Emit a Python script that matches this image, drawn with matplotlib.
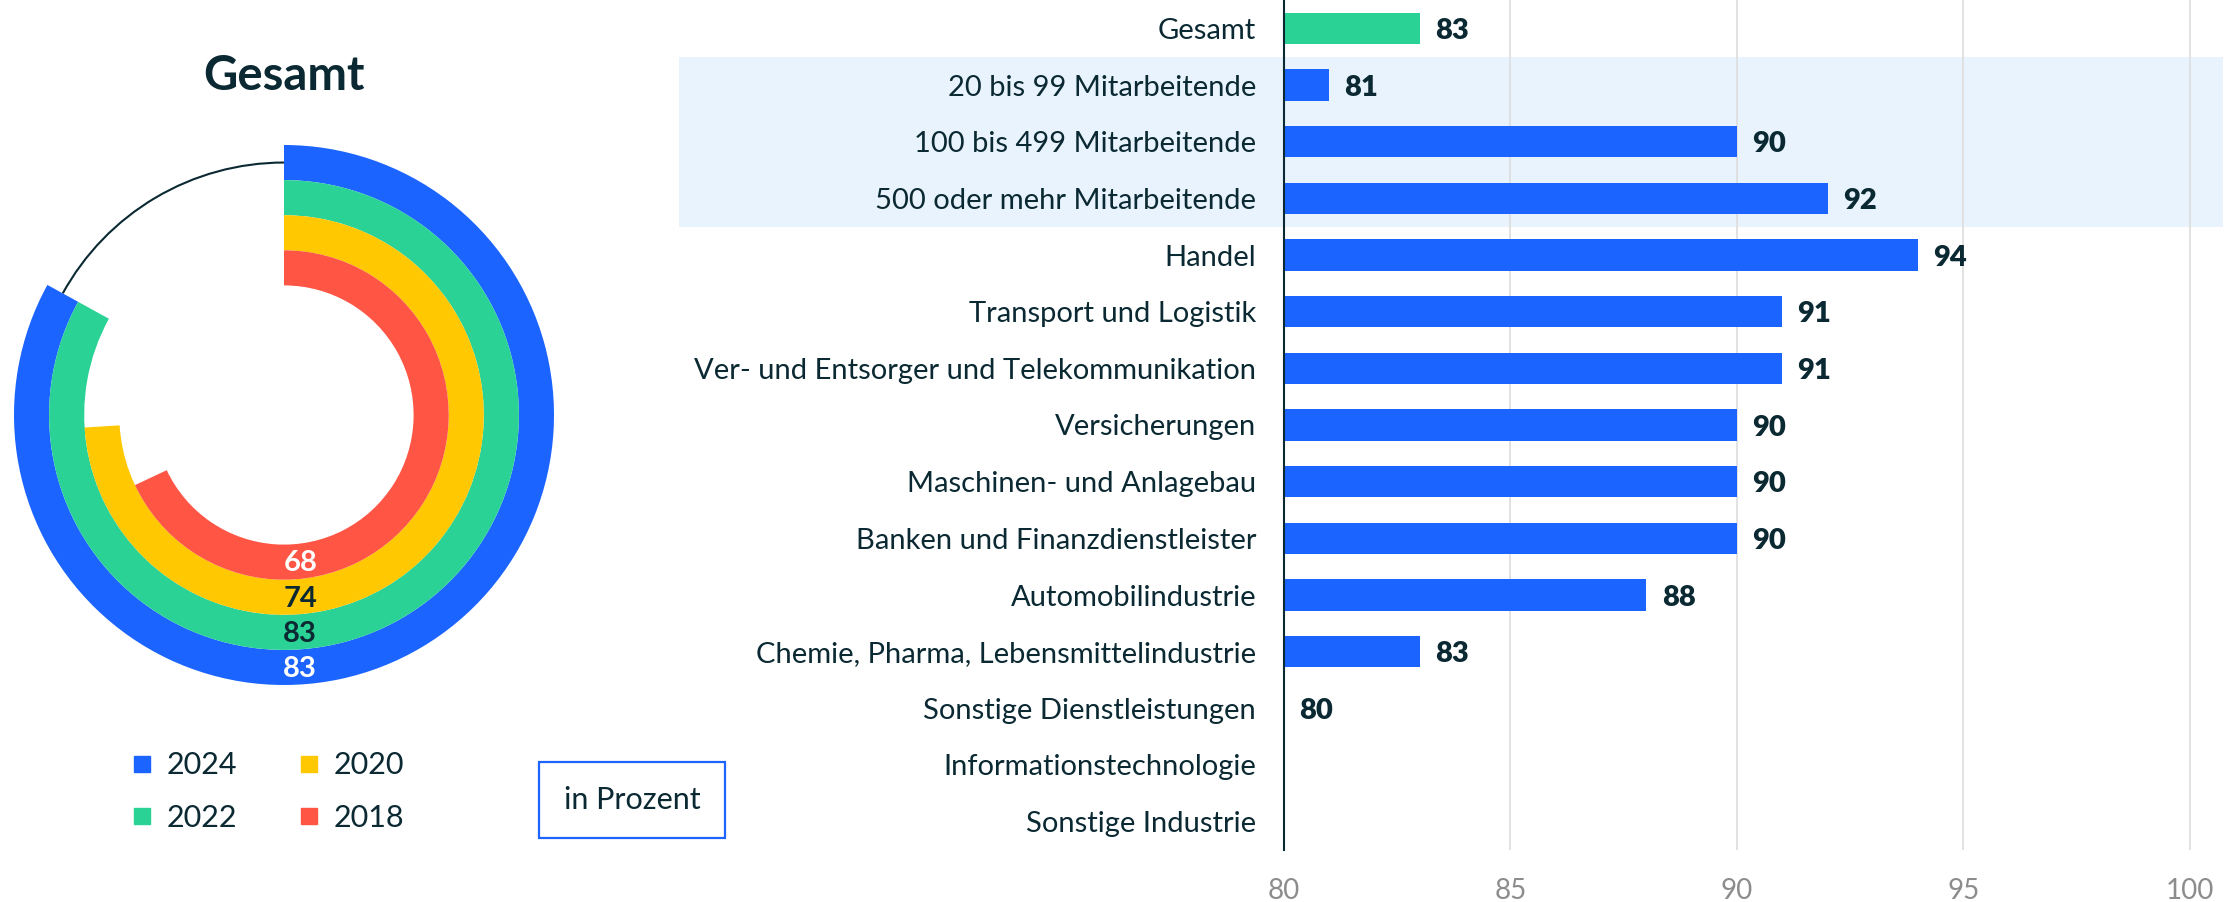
import matplotlib.pyplot as plt
from matplotlib.patches import Arc, Rectangle
from matplotlib.lines import Line2D
import matplotlib.transforms as mtransforms

plt.rcParams['font.family'] = ['Lato', 'DejaVu Sans']

# data
years = ['2024', '2022', '2020', '2018']
gesamt_values = [83, 83, 74, 68]
ring_colors = ['#1b64ff', '#2ad296', '#ffc800', '#ff5545']
label_colors = ['white', '#0b2932', '#0b2932', 'white']

categories = ['Gesamt', '20 bis 99 Mitarbeitende', '100 bis 499 Mitarbeitende',
              '500 oder mehr Mitarbeitende', 'Handel', 'Transport und Logistik',
              'Ver- und Entsorger und Telekommunikation', 'Versicherungen',
              'Maschinen- und Anlagebau', 'Banken und Finanzdienstleister',
              'Automobilindustrie', 'Chemie, Pharma, Lebensmittelindustrie',
              'Sonstige Dienstleistungen', 'Informationstechnologie', 'Sonstige Industrie']
values = [83, 81, 90, 92, 94, 91, 91, 90, 90, 90, 88, 83, 80, None, None]
highlight = [1, 2, 3]
x_ticks = [80, 85, 90, 95, 100]

dark = '#0b2932'
blue = '#1b64ff'
green = '#2ad296'

fig = plt.figure(figsize=(22.27, 9.02), dpi=100)

# ---- donut ----
ax_d = fig.add_axes([0.5 / 2227, 203.5 / 902, 567 / 2227, 567 / 902])
ax_d.axis('off')

width = 0.13
for i, (v, c) in enumerate(zip(gesamt_values, ring_colors)):
    r = 1.0 - i * width
    ax_d.pie([v, 100 - v], radius=r, startangle=90, counterclock=False,
             colors=[c, 'none'], wedgeprops=dict(width=width, linewidth=0))
    ax_d.text(0.06, -(r - width / 2) - 0.005, str(v), ha='center', va='center',
              fontsize=21, fontweight='bold', color=label_colors[i])

# thin arc for the rest of the outer ring
rest = (100 - gesamt_values[0]) * 3.6
ax_d.add_patch(Arc((0, 0), 2 * (1 - width / 2), 2 * (1 - width / 2),
                   theta1=90, theta2=90 + rest, color=dark, lw=1.5, zorder=0))
ax_d.set_xlim(-1.05, 1.05)
ax_d.set_ylim(-1.05, 1.05)
ax_d.set_aspect('equal')

fig.text(284 / 2227, 1 - 76 / 902, 'Gesamt', ha='center', va='center',
         fontsize=34, fontweight='bold', color=dark)

# legend
handles = [Line2D([], [], marker='s', linestyle='none', markersize=11,
                  markerfacecolor=c, markeredgecolor=c) for c in ring_colors]
fig.legend(handles, years, ncol=2, loc='upper left',
           bbox_to_anchor=(104 / 2227, 1 - 724 / 902), frameon=False,
           fontsize=22, labelcolor=dark, handletextpad=0.45,
           columnspacing=2.0, labelspacing=0.8, handlelength=0.7)

fig.text(632 / 2227, 1 - 800 / 902, 'in Prozent', ha='center', va='center',
         fontsize=22, color=dark,
         bbox=dict(boxstyle='square,pad=0.8', fc='white', ec=blue, lw=1.6))

# ---- bars ----
ax = fig.add_axes([1284 / 2227, 52 / 902, 939 / 2227, 850 / 902])
ypos = list(range(len(categories)))
bar_vals = [v if v is not None else 80 for v in values]
colors = [green] + [blue] * (len(categories) - 1)
ax.barh(ypos, [v - 80 for v in bar_vals], left=80, height=0.55,
        color=colors, zorder=3)
for y, v in zip(ypos, values):
    if v is not None:
        ax.annotate(str(v), (v, y), xytext=(11, -2), textcoords='offset points',
                    ha='left', va='center', fontsize=21, fontweight='heavy',
                    color=dark, zorder=4)

ax.set_xlim(80, 100.73)
ax.set_ylim(len(categories) - 0.5, -0.5)
ax.set_xticks(x_ticks)
ax.set_xticklabels([str(t) for t in x_ticks], color='#8c8c8c', fontsize=20)
ax.set_yticks(ypos)
ax.set_yticklabels(categories, fontsize=21, color=dark)
ax.tick_params(axis='both', length=0)
ax.tick_params(axis='y', pad=20)
ax.tick_params(axis='x', pad=20)
ax.grid(axis='x', color='#dddddd', lw=1.2, zorder=1)
ax.set_axisbelow(True)
for s in ['top', 'right', 'bottom']:
    ax.spines[s].set_visible(False)
ax.spines['left'].set_color(dark)
ax.spines['left'].set_linewidth(1.5)
ax.spines['left'].set_zorder(5)

# highlighted band behind the company size rows
trans = mtransforms.blended_transform_factory(ax.transAxes, ax.transData)
band_left = (679 - 1284) / 939
ax.add_patch(Rectangle((band_left, min(highlight) - 0.5), 1 - band_left,
                       len(highlight), transform=trans, fc='#e8f3fe', ec='none',
                       zorder=0, clip_on=False))

fig.savefig('out.png', dpi=100)
